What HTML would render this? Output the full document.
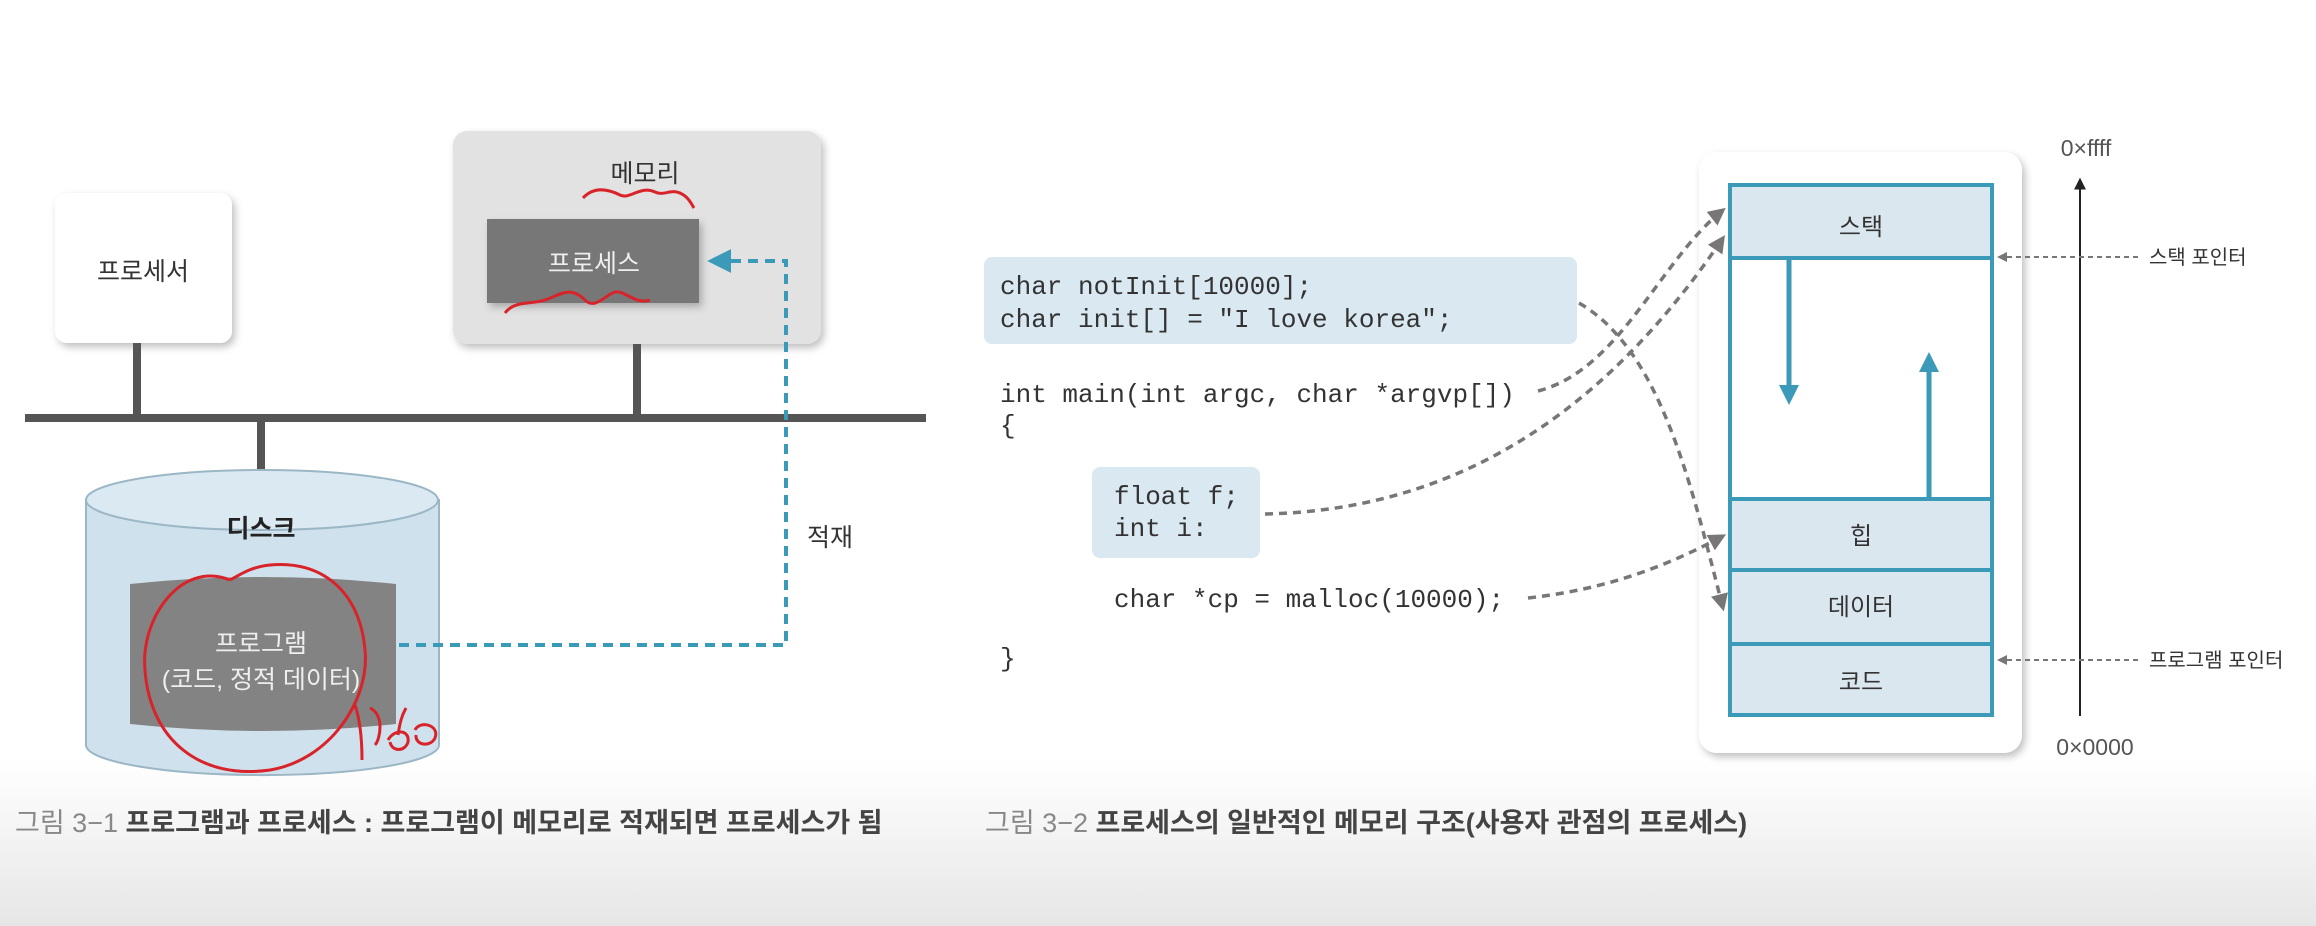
<!DOCTYPE html>
<html><head><meta charset="utf-8"><style>
html,body{margin:0;padding:0;background:#fff}
svg{display:block}
.k{font-family:"Liberation Sans","Noto Sans CJK KR",sans-serif}
.m{font-family:"Liberation Mono","DejaVu Sans Mono",monospace;font-size:26px;fill:#333}
</style></head><body>
<svg width="2316" height="926" viewBox="0 0 2316 926" xmlns="http://www.w3.org/2000/svg">
<defs>
<linearGradient id="bg" x1="0" y1="0" x2="0" y2="1">
<stop offset="0" stop-color="#ffffff"/><stop offset="1" stop-color="#e6e6e6"/></linearGradient>
<filter id="sh" x="-10%" y="-10%" width="130%" height="130%"><feDropShadow dx="3" dy="4" stdDeviation="4" flood-color="#000" flood-opacity="0.25"/></filter>
<marker id="ab" viewBox="0 0 10 10" refX="8" refY="5" markerWidth="6" markerHeight="6" orient="auto"><path d="M0,0 L10,5 L0,10 z" fill="#3a9ab8"/></marker>
<marker id="ag" viewBox="0 0 10 10" refX="8" refY="5" markerWidth="5" markerHeight="5" orient="auto"><path d="M0,0 L10,5 L0,10 z" fill="#777"/></marker>
<marker id="ak" viewBox="0 0 10 10" refX="8" refY="5" markerWidth="6" markerHeight="6" orient="auto"><path d="M0,0 L10,5 L0,10 z" fill="#222"/></marker>
<marker id="at" viewBox="0 0 10 10" refX="5" refY="5" markerWidth="4" markerHeight="4" orient="auto"><path d="M0,0 L10,5 L0,10 z" fill="#3a9ab8"/></marker>
</defs>
<rect x="0" y="760" width="2316" height="166" fill="url(#bg)"/>

<!-- LEFT -->
<rect x="55" y="193" width="177" height="150" rx="12" fill="#fff" filter="url(#sh)"/>
<text x="143" y="280" class="k" font-size="25" text-anchor="middle" fill="#333">프로세서</text>
<rect x="453" y="131" width="368" height="213" rx="14" fill="#e2e2e2" filter="url(#sh)"/>
<text x="645" y="182" class="k" font-size="25" text-anchor="middle" fill="#333">메모리</text>
<rect x="487" y="219" width="212" height="84" fill="#777" filter="url(#sh)"/>
<text x="594" y="272" class="k" font-size="25" text-anchor="middle" fill="#eee">프로세스</text>
<g stroke="#555" stroke-width="8">
<line x1="25" y1="418" x2="926" y2="418"/>
<line x1="137" y1="343" x2="137" y2="418"/>
<line x1="637" y1="344" x2="637" y2="418"/>
<line x1="261" y1="418" x2="261" y2="500"/>
</g>
<path d="M86,500 L86,745 A176,30 0 0 0 439,745 L439,500 Z" fill="#cfe1ec" stroke="#9bb7c6" stroke-width="2"/>
<ellipse cx="262" cy="500" rx="176" ry="30" fill="#dbe9f2" stroke="#9bb7c6" stroke-width="2"/>
<text x="261" y="537" class="k" font-size="25" text-anchor="middle" fill="#222" font-weight="bold">디스크</text>
<path d="M130,584 Q263,570 396,584 L396,724 Q263,738 130,724 Z" fill="#838383"/>
<text x="261" y="652" class="k" font-size="25" text-anchor="middle" fill="#eee">프로그램</text>
<text x="261" y="688" class="k" font-size="25" text-anchor="middle" fill="#eee">(코드, 정적 데이터)</text>
<path d="M399,645 L786,645 L786,261 L712,261" fill="none" stroke="#3a9ab8" stroke-width="4" stroke-dasharray="10,7" marker-end="url(#ab)"/>
<text x="830" y="546" class="k" font-size="25" text-anchor="middle" fill="#333">적재</text>
<g fill="none" stroke="#d8232a" stroke-width="3">
<path d="M583,198 C595,185 610,190 620,195 C630,200 640,185 655,192 C665,197 672,186 685,196 C690,200 692,205 694,208"/>
<path d="M505,313 C515,300 530,305 545,300 C560,295 570,285 585,300 C595,310 605,295 615,292 C625,290 635,305 650,300"/>
<path d="M230,580 C180,560 140,620 145,670 C150,740 200,780 270,770 C330,760 370,700 365,650 C360,590 320,560 270,565 C250,567 240,575 230,580"/>
<path d="M355,705 C360,720 362,740 362,760 M370,708 C385,715 380,740 375,745 M388,740 C395,728 410,730 408,742 C405,752 392,752 390,742 M398,735 C400,722 402,715 406,708 M415,730 C420,720 440,725 435,738 C430,748 415,745 416,735"/>
</g>
<text x="15" y="832" class="k" font-size="27" fill="#888">그림 3−1 <tspan fill="#444" font-weight="bold">프로그램과 프로세스 : 프로그램이 메모리로 적재되면 프로세스가 됨</tspan></text>

<!-- RIGHT -->
<rect x="984" y="257" width="593" height="87" rx="8" fill="#d9e8f1"/>
<rect x="1092" y="467" width="168" height="91" rx="8" fill="#d9e8f1"/>
<text x="1000" y="294" class="m">char notInit[10000];</text>
<text x="1000" y="327" class="m">char init[] = "I love korea";</text>
<text x="1000" y="402" class="m">int main(int argc, char *argvp[])</text>
<text x="1000" y="433" class="m">{</text>
<text x="1114" y="504" class="m">float f;</text>
<text x="1114" y="536" class="m">int i:</text>
<text x="1114" y="607" class="m">char *cp = malloc(10000);</text>
<text x="1000" y="666" class="m">}</text>

<rect x="1699" y="152" width="323" height="601" rx="18" fill="#fff" filter="url(#sh)"/>
<g stroke="#3a9ab8" stroke-width="4">
<rect x="1730" y="185" width="262" height="73" fill="#dbe7ef"/>
<rect x="1730" y="258" width="262" height="241" fill="#fff"/>
<rect x="1730" y="499" width="262" height="71" fill="#dbe7ef"/>
<rect x="1730" y="570" width="262" height="74" fill="#dbe7ef"/>
<rect x="1730" y="644" width="262" height="71" fill="#dbe7ef"/>
<line x1="1789" y1="260" x2="1789" y2="395" stroke-width="5" marker-end="url(#at)"/>
<line x1="1929" y1="499" x2="1929" y2="362" stroke-width="5" marker-end="url(#at)"/>
</g>
<g class="k" font-size="24" text-anchor="middle" fill="#333">
<text x="1861" y="235">스택</text>
<text x="1861" y="544">힙</text>
<text x="1861" y="615">데이터</text>
<text x="1861" y="690">코드</text>
</g>
<line x1="2080" y1="716" x2="2080" y2="180" stroke="#222" stroke-width="2" marker-end="url(#ak)"/>
<text x="2086" y="156" class="k" font-size="23" text-anchor="middle" fill="#555">0×ffff</text>
<text x="2095" y="755" class="k" font-size="23" text-anchor="middle" fill="#555">0×0000</text>
<g stroke="#777" stroke-width="2" stroke-dasharray="5,4" fill="none">
<line x1="2138" y1="257" x2="1999" y2="257" marker-end="url(#ag)"/>
<line x1="2138" y1="660" x2="1999" y2="660" marker-end="url(#ag)"/>
</g>
<text x="2149" y="264" class="k" font-size="20" fill="#333">스택 포인터</text>
<text x="2149" y="667" class="k" font-size="20" fill="#333">프로그램 포인터</text>
<g stroke="#777" stroke-width="3.5" stroke-dasharray="8,6" fill="none">
<path d="M1579,303 C1660,350 1690,480 1723,608" marker-end="url(#ag)"/>
<path d="M1538,391 C1620,370 1660,260 1723,210" marker-end="url(#ag)"/>
<path d="M1265,514 C1450,510 1600,420 1723,238" marker-end="url(#ag)"/>
<path d="M1528,598 C1600,590 1660,570 1723,536" marker-end="url(#ag)"/>
</g>
<text x="985" y="832" class="k" font-size="27" fill="#888">그림 3−2 <tspan fill="#444" font-weight="bold">프로세스의 일반적인 메모리 구조(사용자 관점의 프로세스)</tspan></text>
</svg>
</body></html>
